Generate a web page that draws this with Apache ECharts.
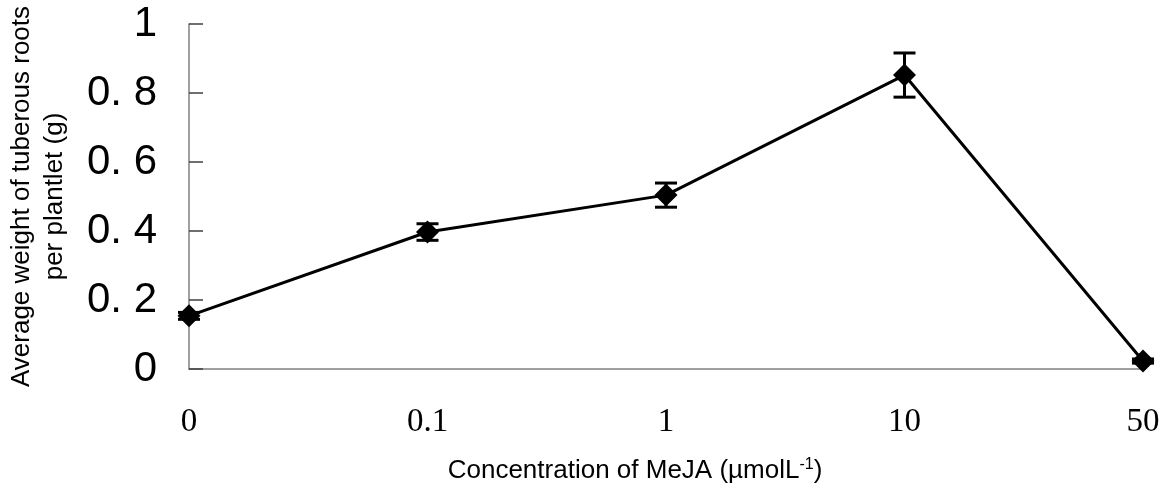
<!DOCTYPE html>
<html>
<head>
<meta charset="utf-8">
<script src="https://cdn.jsdelivr.net/npm/echarts@6/dist/echarts.min.js"></script>
<style>
html,body{margin:0;padding:0;background:#fff;}
#chart{width:1164px;height:486px;}
</style>
</head>
<body>
<div id="chart"></div>
<script>
// concentrations of MeJA (category axis)
var concentration = ['0', '0.1', '1', '10', '50'];
// average weight per plantlet (g)
var weight = [0.154, 0.397, 0.504, 0.852, 0.023];
// error bar half-heights (g)
var errval = [0.010, 0.024, 0.035, 0.064, 0.006];
var yticks = ['0', '0. 2', '0. 4', '0. 6', '0. 8', '1'];

var chart = echarts.init(document.getElementById('chart'));

//误差线数据
var errData = [];
for (var i = 0; i < weight.length; i++) {
	errData.push([i, weight[i] - errval[i], weight[i] + errval[i]]);
}

function renderErr(params, api) {
	var x = api.value(0);
	var lo = api.coord([x, api.value(1)]);
	var hi = api.coord([x, api.value(2)]);
	var w = 11;
	var st = { stroke: '#000', lineWidth: 3 };
	return {
		type: 'group',
		children: [
			{ type: 'line', shape: { x1: hi[0], y1: hi[1], x2: lo[0], y2: lo[1] }, style: st },
			{ type: 'line', shape: { x1: hi[0] - w, y1: hi[1], x2: hi[0] + w, y2: hi[1] }, style: st },
			{ type: 'line', shape: { x1: lo[0] - w, y1: lo[1], x2: lo[0] + w, y2: lo[1] }, style: st }
		]
	};
}

var option = {
	animation: false,
	grid: { left: 189, right: 21, top: 24, bottom: 117, containLabel: false, outerBoundsMode: 'none' },
	xAxis: {
		type: 'category',
		data: concentration,
		boundaryGap: false,
		axisLine: { lineStyle: { color: '#808080', width: 1.5 } },
		axisTick: { show: false },
		axisLabel: { color: '#000', fontFamily: 'Liberation Serif', fontSize: 33, margin: 37 },
		name: 'Concentration of MeJA (µmolL{sup|-1})',
		nameLocation: 'middle',
		nameGap: 88,
		nameTextStyle: {
			color: '#000', fontFamily: 'Liberation Sans', fontSize: 26,
			padding: [0, 62, 0, 0],
			rich: { sup: { fontSize: 16, verticalAlign: 'top', padding: [0, 0, 12, 0], color: '#000', fontFamily: 'Liberation Sans' } }
		}
	},
	yAxis: {
		type: 'value',
		min: 0, max: 1, interval: 0.2,
		axisLine: { show: true, lineStyle: { color: '#808080', width: 1.5 } },
		axisTick: { show: true, inside: true, length: 14, lineStyle: { color: '#404040', width: 1.5 } },
		splitLine: { show: false },
		axisLabel: {
			color: '#000', fontFamily: 'Liberation Sans', fontSize: 42, margin: 32,
			formatter: function (v) { return yticks[Math.round(v * 5)]; }
		},
		name: 'Average weight of tuberous roots\nper plantlet (g)',
		nameLocation: 'middle',
		nameGap: 118,
		nameTextStyle: { color: '#000', fontFamily: 'Liberation Sans', fontSize: 26, lineHeight: 33 }
	},
	series: [
		{
			type: 'custom',
			renderItem: renderErr,
			data: errData,
			z: 3
		},
		{
			type: 'line',
			data: weight,
			symbol: 'diamond',
			symbolSize: 23,
			lineStyle: { color: '#000', width: 3 },
			itemStyle: { color: '#000' },
			z: 4
		}
	]
};
chart.setOption(option, true);
</script>
</body>
</html>
